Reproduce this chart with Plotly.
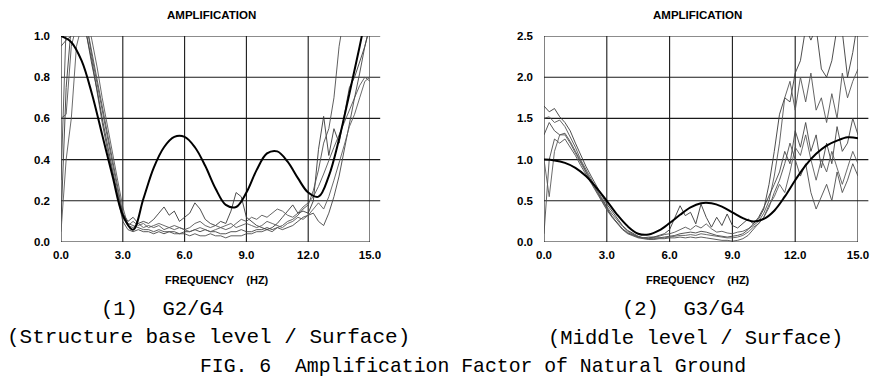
import plotly.graph_objects as go

# ---------------- data ----------------
FREQ = [i * 0.25 for i in range(61)]          # 0.00 ... 15.00 Hz
FREQ_SMOOTH = [i * 0.5 for i in range(31)]    # 0.0 ... 15.0 Hz

X_TICKS = [0, 3, 6, 9, 12, 15]
X_TICK_TEXT = ["0.0", "3.0", "6.0", "9.0", "12.0", "15.0"]
Y1_TICKS = [0.0, 0.2, 0.4, 0.6, 0.8, 1.0]
Y1_TICK_TEXT = ["0.0", "0.2", "0.4", "0.6", "0.8", "1.0"]
Y2_TICKS = [0.0, 0.5, 1.0, 1.5, 2.0, 2.5]
Y2_TICK_TEXT = ["0.0", "0.5", "1.0", "1.5", "2.0", "2.5"]

# (1) G2/G4 theoretical
G2_THEORY = [1.00, 0.97, 0.88, 0.72, 0.52, 0.32, 0.13, 0.06, 0.21, 0.36,
             0.46, 0.51, 0.51, 0.46, 0.37, 0.26, 0.18, 0.17, 0.24, 0.35,
             0.43, 0.44, 0.39, 0.31, 0.24, 0.22, 0.32, 0.50, 0.72, 0.95, 1.20]

# (1) G2/G4 observed records
G2_OBS_1 = [0.10, 0.75, 1.05, 1.10, 1.10, 1.00, 0.86, 0.74, 0.60, 0.47, 0.35, 0.23,
            0.14, 0.10, 0.12, 0.09, 0.10, 0.09, 0.11, 0.14, 0.17, 0.13, 0.15, 0.10,
            0.12, 0.14, 0.19, 0.16, 0.11, 0.09, 0.08, 0.10, 0.09, 0.15, 0.24, 0.22,
            0.12, 0.10, 0.08, 0.07, 0.06, 0.07, 0.09, 0.12, 0.15, 0.18, 0.14, 0.15,
            0.14, 0.20, 0.45, 0.61, 0.42, 0.55, 0.48, 0.62, 0.75, 0.80, 0.88, 0.95, 1.05]
G2_OBS_2 = [0.60, 0.62, 0.95, 1.05, 1.10, 1.05, 0.90, 0.77, 0.64, 0.50, 0.37, 0.25,
            0.12, 0.08, 0.07, 0.09, 0.07, 0.08, 0.07, 0.08, 0.06, 0.07, 0.08, 0.07,
            0.06, 0.07, 0.09, 0.10, 0.08, 0.07, 0.08, 0.07, 0.06, 0.07, 0.09, 0.11,
            0.10, 0.12, 0.11, 0.13, 0.12, 0.14, 0.16, 0.15, 0.13, 0.12, 0.14, 0.17,
            0.19, 0.22, 0.27, 0.33, 0.40, 0.46, 0.52, 0.58, 0.64, 0.70, 0.76, 0.80, 0.78]
G2_OBS_3 = [0.95, 0.98, 1.00, 1.05, 1.05, 1.00, 0.88, 0.72, 0.58, 0.45, 0.33, 0.21,
            0.10, 0.06, 0.05, 0.06, 0.05, 0.05, 0.04, 0.05, 0.04, 0.05, 0.05, 0.04,
            0.05, 0.05, 0.06, 0.05, 0.06, 0.05, 0.05, 0.04, 0.04, 0.05, 0.05, 0.06,
            0.05, 0.05, 0.06, 0.06, 0.07, 0.06, 0.07, 0.06, 0.07, 0.08, 0.10, 0.12,
            0.13, 0.14, 0.10, 0.08, 0.14, 0.22, 0.32, 0.45, 0.58, 0.70, 0.82, 0.95, 1.05]
G2_OBS_4 = [0.30, 1.05, 1.10, 1.10, 1.10, 1.05, 0.92, 0.78, 0.66, 0.53, 0.40, 0.27,
            0.14, 0.09, 0.08, 0.07, 0.06, 0.06, 0.05, 0.06, 0.05, 0.05, 0.04, 0.04,
            0.04, 0.03, 0.04, 0.03, 0.03, 0.04, 0.03, 0.03, 0.02, 0.03, 0.03, 0.03,
            0.04, 0.04, 0.05, 0.05, 0.06, 0.05, 0.07, 0.08, 0.10, 0.11, 0.13, 0.16,
            0.18, 0.25, 0.35, 0.48, 0.55, 0.70, 0.95, 1.10, 1.10, 1.10, 1.10, 1.10, 1.10]
G2_OBS_5 = [0.05, 0.40, 0.60, 0.95, 1.05, 1.10, 0.98, 0.85, 0.70, 0.56, 0.42, 0.30,
            0.17, 0.08, 0.10, 0.08, 0.09, 0.07, 0.08, 0.09, 0.08, 0.07, 0.06, 0.07,
            0.06, 0.05, 0.06, 0.07, 0.06, 0.05, 0.06, 0.07, 0.08, 0.09, 0.07, 0.08,
            0.09, 0.08, 0.07, 0.08, 0.10, 0.09, 0.08, 0.07, 0.09, 0.10, 0.12, 0.11,
            0.13, 0.16, 0.19, 0.16, 0.22, 0.30, 0.38, 0.47, 0.56, 0.62, 0.70, 0.78, 0.80]

# (2) G3/G4 theoretical
G3_THEORY = [1.00, 0.99, 0.96, 0.90, 0.80, 0.66, 0.50, 0.33, 0.19, 0.10,
             0.09, 0.14, 0.23, 0.33, 0.42, 0.47, 0.47, 0.43, 0.36, 0.29,
             0.25, 0.28, 0.38, 0.55, 0.75, 0.93, 1.07, 1.17, 1.23, 1.27, 1.26]

# (2) G3/G4 observed records
G3_OBS_1 = [1.65, 1.58, 1.62, 1.52, 1.45, 1.35, 1.20, 1.05, 0.92, 0.80, 0.68, 0.57,
            0.46, 0.37, 0.28, 0.20, 0.14, 0.10, 0.07, 0.05, 0.05, 0.06, 0.08, 0.10,
            0.15, 0.30, 0.44, 0.32, 0.36, 0.22, 0.46, 0.30, 0.18, 0.30, 0.20, 0.34,
            0.20, 0.17, 0.22, 0.28, 0.22, 0.28, 0.40, 0.70, 1.10, 1.55, 1.75, 1.70,
            2.05, 2.20, 2.60, 2.45, 2.60, 2.10, 2.00, 2.20, 2.60, 2.55, 2.00, 2.30, 2.70]
G3_OBS_2 = [1.50, 1.52, 1.45, 1.48, 1.40, 1.28, 1.15, 1.00, 0.88, 0.77, 0.65, 0.54,
            0.43, 0.34, 0.26, 0.19, 0.13, 0.09, 0.06, 0.05, 0.06, 0.06, 0.07, 0.09,
            0.10, 0.12, 0.15, 0.18, 0.15, 0.20, 0.17, 0.22, 0.16, 0.12, 0.13, 0.11,
            0.10, 0.12, 0.13, 0.16, 0.20, 0.25, 0.35, 0.50, 0.80, 1.20, 1.75, 1.95,
            1.60, 2.00, 1.70, 2.05, 1.60, 1.75, 1.45, 1.80, 1.50, 2.05, 1.75, 1.95, 2.10]
G3_OBS_3 = [1.30, 1.45, 1.35, 1.30, 1.32, 1.22, 1.10, 0.98, 0.85, 0.74, 0.63, 0.52,
            0.41, 0.31, 0.23, 0.16, 0.11, 0.08, 0.06, 0.05, 0.04, 0.05, 0.05, 0.06,
            0.07, 0.08, 0.10, 0.11, 0.12, 0.11, 0.13, 0.12, 0.10, 0.08, 0.07, 0.06,
            0.07, 0.08, 0.10, 0.15, 0.22, 0.30, 0.42, 0.55, 0.70, 0.85, 1.10, 0.95,
            1.35, 1.15, 1.45, 1.10, 1.30, 0.90, 1.20, 0.95, 1.40, 1.10, 1.20, 1.50, 1.30]
G3_OBS_4 = [0.10, 1.00, 1.25, 1.20, 1.25, 1.15, 1.05, 0.93, 0.82, 0.71, 0.60, 0.49,
            0.39, 0.30, 0.22, 0.15, 0.10, 0.07, 0.05, 0.04, 0.03, 0.03, 0.04, 0.04,
            0.05, 0.05, 0.06, 0.05, 0.06, 0.05, 0.06, 0.05, 0.04, 0.03, 0.02, 0.02,
            0.01, 0.02, 0.04, 0.08, 0.15, 0.22, 0.30, 0.42, 0.60, 0.75, 0.95, 1.20,
            1.00, 0.80, 0.95, 0.60, 0.40, 0.55, 0.70, 0.50, 0.85, 0.60, 0.75, 0.95, 0.80]
G3_OBS_5 = [1.00, 0.55, 1.10, 1.30, 1.30, 1.20, 1.08, 0.96, 0.84, 0.73, 0.62, 0.51,
            0.40, 0.31, 0.23, 0.16, 0.11, 0.08, 0.06, 0.05, 0.04, 0.04, 0.05, 0.05,
            0.06, 0.07, 0.08, 0.08, 0.09, 0.08, 0.10, 0.09, 0.08, 0.07, 0.06, 0.05,
            0.05, 0.06, 0.08, 0.12, 0.18, 0.22, 0.30, 0.45, 0.55, 0.70, 0.60, 0.85,
            1.15, 1.05, 1.30, 1.00, 0.75, 1.00, 0.85, 1.10, 0.90, 0.70, 0.90, 1.10, 0.95]

# ---------------- figure ----------------
W, H = 873, 382
GRID = "#1a1a1a"
OBS_COLORS = ["#3a3a3a", "#555555", "#444444", "#4d4d4d", "#5a5a5a"]

fig = go.Figure()

panels = [
    ("x", "y", G2_THEORY, [G2_OBS_1, G2_OBS_2, G2_OBS_3, G2_OBS_4, G2_OBS_5]),
    ("x2", "y2", G3_THEORY, [G3_OBS_1, G3_OBS_2, G3_OBS_3, G3_OBS_4, G3_OBS_5]),
]
for xa, ya, theory, obs in panels:
    for k, series in enumerate(obs):
        fig.add_trace(go.Scatter(x=FREQ, y=series, xaxis=xa, yaxis=ya, mode="lines",
                                 line=dict(color=OBS_COLORS[k], width=0.9),
                                 showlegend=False, hoverinfo="skip"))
    fig.add_trace(go.Scatter(x=FREQ_SMOOTH, y=theory, xaxis=xa, yaxis=ya, mode="lines",
                             line=dict(color="black", width=2, shape="spline"),
                             showlegend=False, hoverinfo="skip"))

tickfont = dict(family="Liberation Sans", size=11.5, color="black", weight="bold")
ydom = [1 - 242 / H, 1 - 36 / H]
common_x = dict(range=[0, 15], tickvals=X_TICKS, ticktext=X_TICK_TEXT, showgrid=False,
                zeroline=False, showline=False, ticks="", tickfont=tickfont,
                ticklabelstandoff=4, fixedrange=True, automargin=False)
common_y = dict(showgrid=False, zeroline=False, showline=False, ticks="",
                tickfont=tickfont, ticklabelstandoff=10, fixedrange=True,
                automargin=False)

fig.update_layout(
    width=W, height=H,
    margin=dict(l=0, r=0, t=0, b=0, pad=0, autoexpand=False),
    paper_bgcolor="white", plot_bgcolor="rgba(0,0,0,0)",
    xaxis=dict(domain=[61 / W, 370 / W], anchor="y", **common_x),
    yaxis=dict(domain=ydom, anchor="x", range=[0, 1.0], tickvals=Y1_TICKS,
               ticktext=Y1_TICK_TEXT, **common_y),
    xaxis2=dict(domain=[544 / W, 858 / W], anchor="y2", **common_x),
    yaxis2=dict(domain=ydom, anchor="x2", range=[0, 2.5], tickvals=Y2_TICKS,
                ticktext=Y2_TICK_TEXT, **common_y),
)

shapes = []
for xa, ya, yticks in [("x", "y", Y1_TICKS), ("x2", "y2", Y2_TICKS)]:
    for v in yticks:
        shapes.append(dict(type="line", xref=f"{xa} domain", yref=ya,
                           x0=0, x1=(1.0 if v == 0 else 1.033), y0=v, y1=v,
                           line=dict(color=GRID, width=1.1), layer="below"))
    for v in X_TICKS:
        shapes.append(dict(type="line", xref=xa, yref=f"{ya} domain",
                           x0=v, x1=v, y0=0, y1=1,
                           line=dict(color=GRID, width=1.1), layer="below"))
fig.update_layout(shapes=shapes)

NB = "\u00a0"
small_bold = dict(family="Liberation Sans", size=11.5, color="black", weight="bold")
axis_bold = dict(family="Liberation Sans", size=11, color="black", weight="bold")


def cap(size):
    return dict(family="Liberation Mono", size=size, color="black")


def px(x):
    return x / W


def py(y):
    return 1 - y / H


annotations = [
    dict(text="AMPLIFICATION", x=px(211), y=py(15), font=small_bold),
    dict(text="AMPLIFICATION", x=px(697), y=py(15), font=small_bold),
    dict(text=f"FREQUENCY{NB*4}(HZ)", x=px(217), y=py(280), font=axis_bold),
    dict(text=f"FREQUENCY{NB*4}(HZ)", x=px(698), y=py(280), font=axis_bold),
    dict(text=f"(1){NB*2}G2/G4", x=px(99), y=py(309), font=cap(20.5), xanchor="left"),
    dict(text=f"(Structure{NB}base{NB}level{NB}/{NB}Surface)", x=px(5), y=py(337),
         font=cap(21), xanchor="left"),
    dict(text=f"(2){NB*2}G3/G4", x=px(620), y=py(309), font=cap(20.5), xanchor="left"),
    dict(text=f"(Middle{NB}level{NB}/{NB}Surface)", x=px(546), y=py(338),
         font=cap(20.5), xanchor="left"),
    dict(text=f"FIG.{NB}6{NB*2}Amplification{NB}Factor{NB}of{NB}Natural{NB}Ground",
         x=px(198), y=py(367), font=cap(19.8), xanchor="left"),
]
for a in annotations:
    a.setdefault("xanchor", "center")
    a.update(xref="paper", yref="paper", yanchor="middle", showarrow=False)
fig.update_layout(annotations=annotations)

fig.write_html(
    "out.html",
    config={"displayModeBar": False, "staticPlot": True},
    post_script="document.body.style.margin='0px';document.body.style.overflow='hidden';",
)
